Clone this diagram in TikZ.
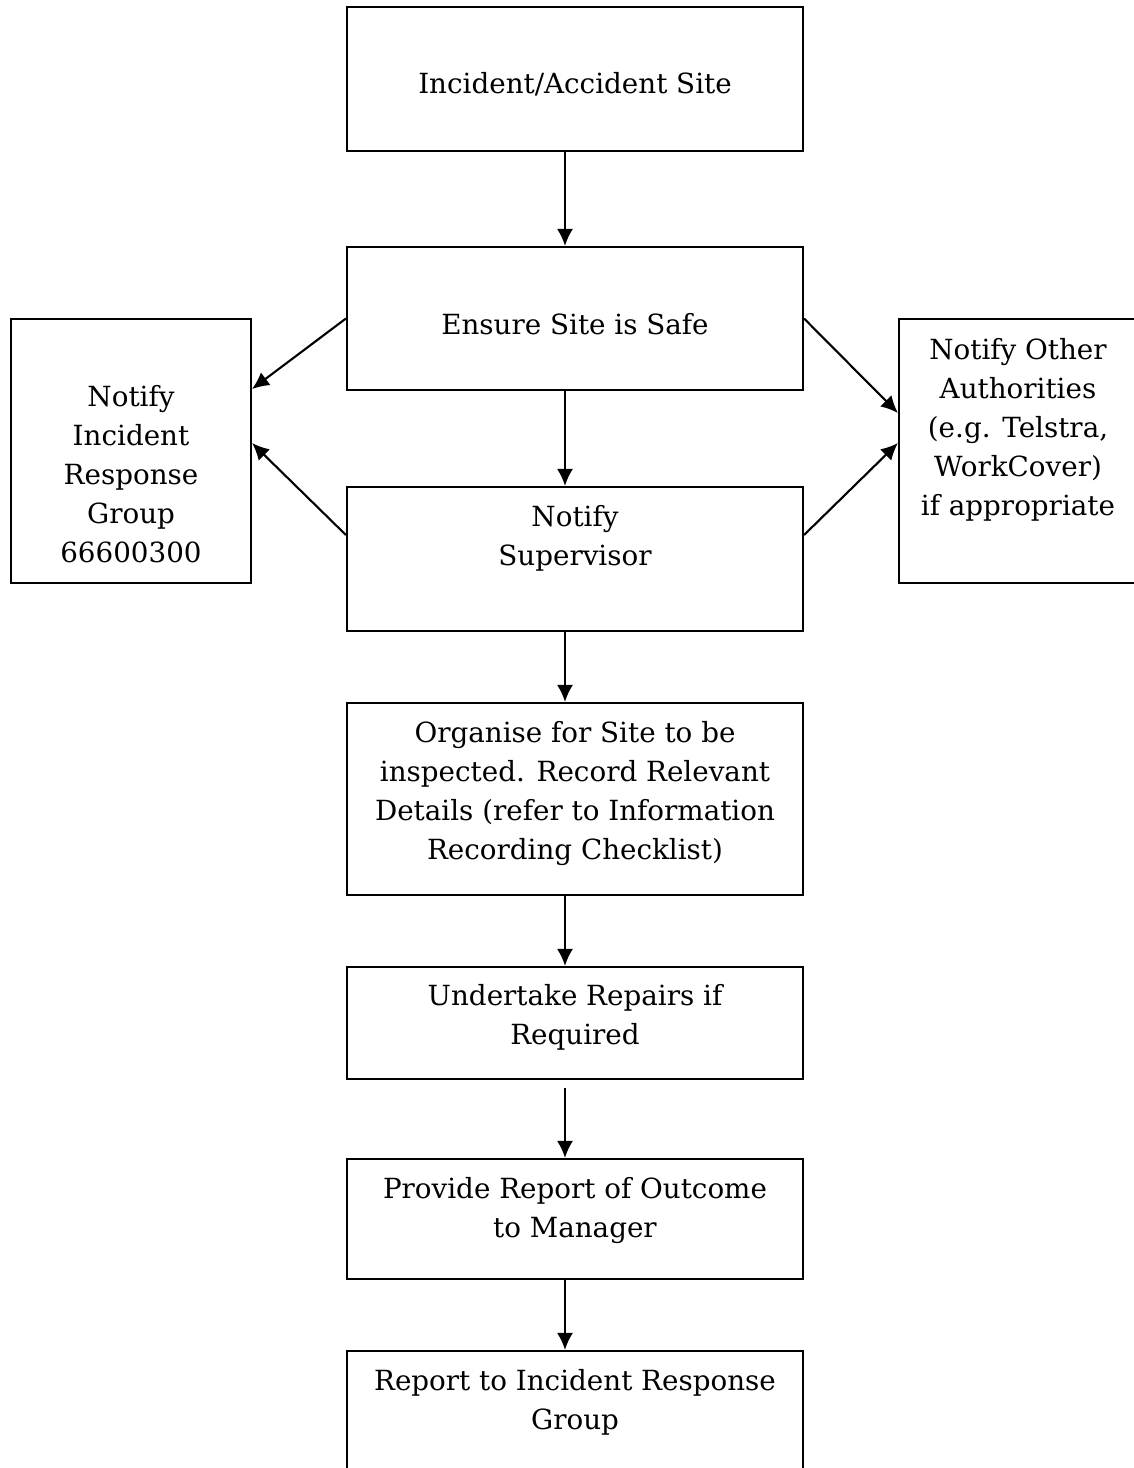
\documentclass[tikz,border=0pt]{standalone}
\usepackage{fontspec}
\setmainfont{DejaVu Serif}
\usetikzlibrary{arrows.meta}

\begin{document}
\begin{tikzpicture}[
  box/.style={draw,line width=0.6pt,rectangle,minimum width=4.56cm,inner sep=0pt},
  sidebox/.style={draw,line width=0.6pt,rectangle,minimum width=2.4cm,minimum height=2.64cm,inner sep=0pt},
  txt/.style={align=center,inner sep=0pt,font=\fontsize{7.9}{11.1}\selectfont},
  arr/.style={line width=0.6pt,-{Latex[length=1.7mm,width=1.6mm]}}
]
\useasboundingbox (0,0) rectangle (11.34,-14.68);
\clip (0,0) rectangle (11.34,-14.68);

\node[box,minimum height=1.44cm] (site) at (5.75,-0.79) {};
\node[box,minimum height=1.43cm] (safe) at (5.75,-3.185) {};
\node[box,minimum height=1.44cm] (super) at (5.75,-5.59) {};
\node[box,minimum height=1.92cm] (organise) at (5.75,-7.99) {};
\node[box,minimum height=1.12cm] (repair) at (5.75,-10.23) {};
\node[box,minimum height=1.20cm] (outcome) at (5.75,-12.19) {};
\node[box,minimum height=1.44cm] (report) at (5.75,-14.23) {};

\node[sidebox] (irg) at (1.31,-4.51) {};
\node[sidebox,minimum width=2.38cm] (other) at (10.18,-4.51) {};

\node[txt] (siteText) at (5.75,-0.84) {Incident/Accident Site};
\node[txt] (safeText) at (5.75,-3.24) {Ensure Site is Safe};
\node[txt] (superText) at (5.75,-5.38) {Notify\\Supervisor};
\node[txt] (organiseText) at (5.75,-7.935) {Organise for Site to be\\inspected. Record Relevant\\Details (refer to Information\\Recording Checklist)};
\node[txt] (repairText) at (5.75,-10.175) {Undertake Repairs if\\Required};
\node[txt] (outcomeText) at (5.75,-12.105) {Provide Report of Outcome\\to Manager};
\node[txt] (reportText) at (5.75,-14.025) {Report to Incident Response\\Group};
\node[txt] (irgText) at (1.31,-4.745) {Notify\\Incident\\Response\\Group\\66600300};
\node[txt] (otherText) at (10.18,-4.30) {Notify Other\\Authorities\\(e.g. Telstra,\\WorkCover)\\if appropriate};

\coordinate (axis) at (5.65,0);
\draw[arr] (site.south -| axis) -- (safe.north -| axis);
\draw[arr] (safe.south -| axis) -- (super.north -| axis);
\draw[arr] (super.south -| axis) -- (organise.north -| axis);
\draw[arr] (organise.south -| axis) -- (repair.north -| axis);
\draw[arr] ([yshift=-0.08cm]repair.south -| axis) -- (outcome.north -| axis);
\draw[arr] (outcome.south -| axis) -- (report.north -| axis);

\draw[arr] (safe.west) -- ([yshift=0.62cm]irg.east);
\draw[arr] ([yshift=0.24cm]super.west) -- ([yshift=0.08cm]irg.east);
\draw[arr] (safe.east) -- ([yshift=0.38cm]other.west);
\draw[arr] ([yshift=0.24cm]super.east) -- ([yshift=0.08cm]other.west);

\end{tikzpicture}
\end{document}
